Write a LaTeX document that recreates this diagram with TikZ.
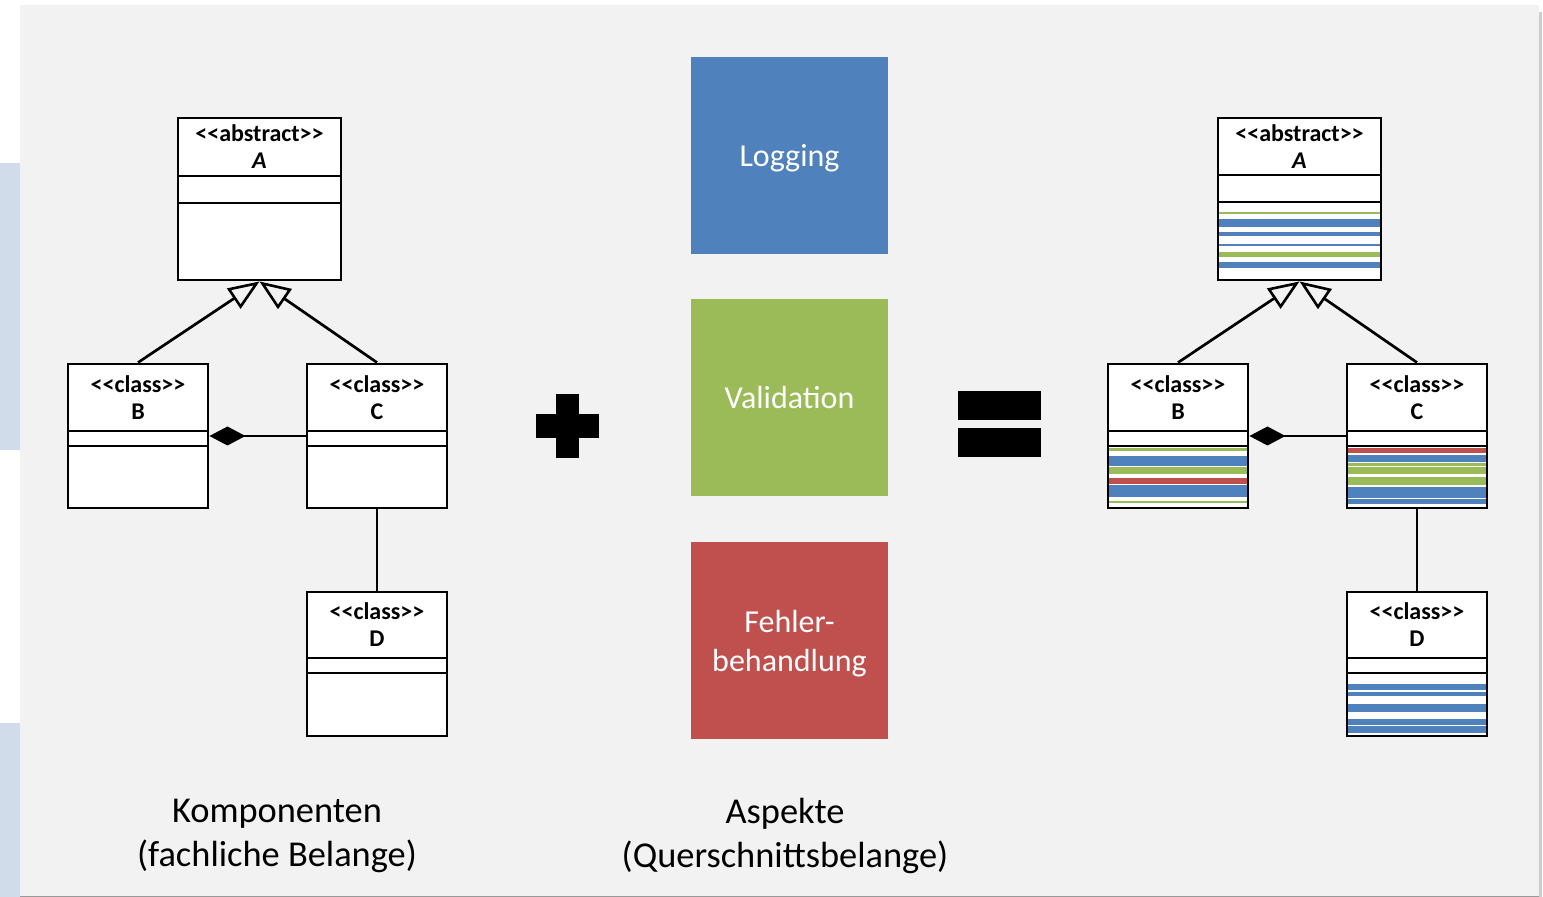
\documentclass[tikz,border=0pt]{standalone}
\usepackage{fontspec}
\setmainfont{Carlito}
\usetikzlibrary{arrows.meta,positioning,fit}
\definecolor{blau}{RGB}{79,129,189}
\definecolor{gruen}{RGB}{155,187,89}
\definecolor{rot}{RGB}{192,80,77}
\definecolor{hgrau}{RGB}{242,242,242}
\definecolor{hblau}{RGB}{208,220,234}
\definecolor{schatten}{RGB}{205,205,205}
% Klasse: Name, x1, y1, x2, y2, Trenner 1, Trenner 2, Stereotyp, Titel
\newcommand{\klasse}[9]{%
  \node[kbox, fit={(#2,#3) (#4,#5)}] (#1) {};
  \draw[kline] (#2,#6) -- (#4,#6) (#2,#7) -- (#4,#7);
  \node[ktext] at ({(#2+#4)/2},{(#3+#6)/2}) {#8\\ #9};
}
\tikzset{
  kbox/.style={draw, fill=white, line width=1.45pt, inner sep=0pt},
  kline/.style={line width=1.45pt},
  ktext/.style={align=center, inner sep=0pt, font=\bfseries\fontsize{12}{13.5}\selectfont},
  aspekt/.style={minimum size=98.5pt, inner sep=0pt, text=white, align=center, text depth=0pt, font=\fontsize{16}{19.5}\selectfont},
  erbt/.style={-{Triangle[open, length=15.5pt, width=12pt, line width=1.3pt]}, line width=1.35pt},
  komp/.style={-{Diamond[length=18pt, width=9.5pt]}, line width=1.35pt},
  verb/.style={line width=1.35pt},
  unter/.style={align=center, text depth=0pt, font=\fontsize{18.2}{22}\selectfont},
}

\begin{document}
\begin{tikzpicture}[x=0.5pt, y=-0.5pt]
  \useasboundingbox (0,0) rectangle (1543,897);
  % Hintergrund
  \fill[white] (0,0) rectangle (1543,897);
  \fill[hblau] (0,163) rectangle (20,450);
  \fill[hblau] (0,723) rectangle (20,897);
  \fill[schatten] (1536,12) rectangle (1542,897);
  \fill[hgrau] (20,5) rectangle (1539,897);
  \fill[black!40] (20,895.5) rectangle (1539,897);

  % Komponenten links
  \klasse{lA}{178}{118}{341}{280}{176}{203}{<{}<abstract>{}>}{\textit{A}}
  \klasse{lB}{68}{364}{208}{508}{431}{446}{<{}<class>{}>}{B}
  \klasse{lC}{307}{364}{447}{508}{431}{446}{<{}<class>{}>}{C}
  \klasse{lD}{307}{592}{447}{736}{658}{673}{<{}<class>{}>}{D}
  \draw[erbt] (lB.north) -- (lA.south);
  \draw[erbt] (lC.north) -- (lA.south);
  \draw[komp] (lC.west) -- (lB.east);
  \draw[verb] (lD.north) -- (lC.south);

  % Plus
  \fill (556,394) rectangle (579,458);
  \fill (536,414) rectangle (599,438);

  % Aspekte
  \node[aspekt, fill=blau] (logging) at (789.5,155.5) {Logging};
  \node[aspekt, fill=gruen] (validation) at (789.5,397.5) {Validation};
  \node[aspekt, fill=rot] (fehler) at (789.5,640.5) {Fehler-\\behandlung};

  % Gleich
  \fill (958,391) rectangle (1041,420);
  \fill (958,428) rectangle (1041,457);

  % Komponenten rechts, mit Aspekten verwoben
  \klasse{rA}{1218}{118}{1381}{280}{175}{202}{<{}<abstract>{}>}{\textit{A}}
  \foreach \f/\ya/\yb in {gruen/212.3/214.3, blau/219.3/227.3, blau/232/235.7,
      blau/244.3/246.3, gruen/251.7/257.3, blau/261.7/267.7}
    \fill[\f] (1219.3,\ya) rectangle (1379.7,\yb);
  \klasse{rB}{1108}{364}{1248}{508}{431}{446}{<{}<class>{}>}{B}
  \foreach \f/\ya/\yb in {gruen/448.3/450.7, blau/455.7/465.7, gruen/466.7/474.3,
      rot/477.7/484, blau/485.3/496.7, gruen/500.7/503.3}
    \fill[\f] (1109.3,\ya) rectangle (1246.7,\yb);
  \klasse{rC}{1347}{364}{1487}{508}{431}{446}{<{}<class>{}>}{C}
  \foreach \f/\ya/\yb in {rot/447.7/452.7, blau/455/462.3, gruen/462.7/466,
      gruen/467.3/474.3, gruen/476.7/485, blau/486.7/498.3, blau/499.3/504}
    \fill[\f] (1348.3,\ya) rectangle (1485.7,\yb);
  \klasse{rD}{1347}{592}{1487}{736}{658}{673}{<{}<class>{}>}{D}
  \foreach \f/\ya/\yb in {blau/684/690, blau/691.7/695.7, blau/704/711.7,
      blau/719/725, blau/725.7/733.3}
    \fill[\f] (1348.3,\ya) rectangle (1485.7,\yb);
  \draw[erbt] (rB.north) -- (rA.south);
  \draw[erbt] (rC.north) -- (rA.south);
  \draw[komp] (rC.west) -- (rB.east);
  \draw[verb] (rD.north) -- (rC.south);

  % Beschriftung
  \node[unter] (komponenten) at (277,833) {Komponenten\\(fachliche Belange)};
  \node[unter] (aspekte) at (785,833) {Aspekte\\(Querschnittsbelange)};
\end{tikzpicture}
\end{document}
